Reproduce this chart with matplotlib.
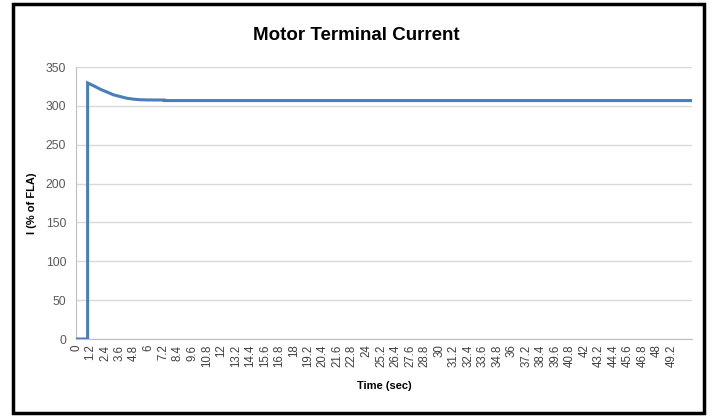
import matplotlib
matplotlib.use('Agg')
import matplotlib.pyplot as plt
from matplotlib.patches import Rectangle

##########DATA##########
time_s = [0, 0.96, 0.96, 1.5, 2.0, 2.6, 3.1, 3.7, 4.2, 4.8, 5.3, 6.0, 7.3, 7.3, 50.9]
current_pct = [0, 0, 329.5, 325.5, 321.4, 317.5, 314.2, 311.8, 309.8, 308.5, 307.9, 307.6, 307.5, 306.8, 306.8]

tick_step = 1.2
n_ticks = 42
tick_pos = [round(i * tick_step, 1) for i in range(n_ticks)]
tick_labels = ['%g' % t for t in tick_pos]

y_ticks = [0, 50, 100, 150, 200, 250, 300, 350]

##########PLOT##########
plt.rcParams['font.family'] = ['Liberation Sans', 'DejaVu Sans']

fig = plt.figure(figsize=(7.12, 4.16), dpi=100)
ax = fig.add_axes([76 / 712, 77 / 416, 616 / 712, 272 / 416])

ax.plot(time_s, current_pct, color='#4a7ebb', lw=2.2, solid_joinstyle='miter', zorder=3)

ax.set_xlim(0, 50.9)
ax.set_ylim(0, 350)
ax.set_yticks(y_ticks)
ax.set_xticks(tick_pos)
ax.set_xticklabels(tick_labels, rotation=90, fontsize=8.3, color='#404040')
ax.tick_params(axis='y', labelsize=8.8, colors='#595959', length=0, pad=7)
ax.tick_params(axis='x', length=0, pad=4)

ax.grid(axis='y', color='#d9d9d9', lw=1)
ax.set_axisbelow(True)
for side in ['top', 'right']:
    ax.spines[side].set_visible(False)
ax.spines['left'].set_color('#bfbfbf')
ax.spines['bottom'].set_color('#bfbfbf')

ax.set_ylabel('I (% of FLA)', fontsize=8, fontweight='bold', labelpad=6)
ax.set_xlabel('Time (sec)', fontsize=8, fontweight='bold', labelpad=10)

fig.text(0.5, 0.915, 'Motor Terminal Current', ha='center', va='center',
         fontsize=13.5, fontweight='bold')

# black frame around the whole chart
fig.patches.append(Rectangle((13 / 712, 3.5 / 416), 691 / 712, 409 / 416,
                             transform=fig.transFigure, fill=False,
                             edgecolor='black', lw=2.5))

fig.savefig('out.png', dpi=100)
